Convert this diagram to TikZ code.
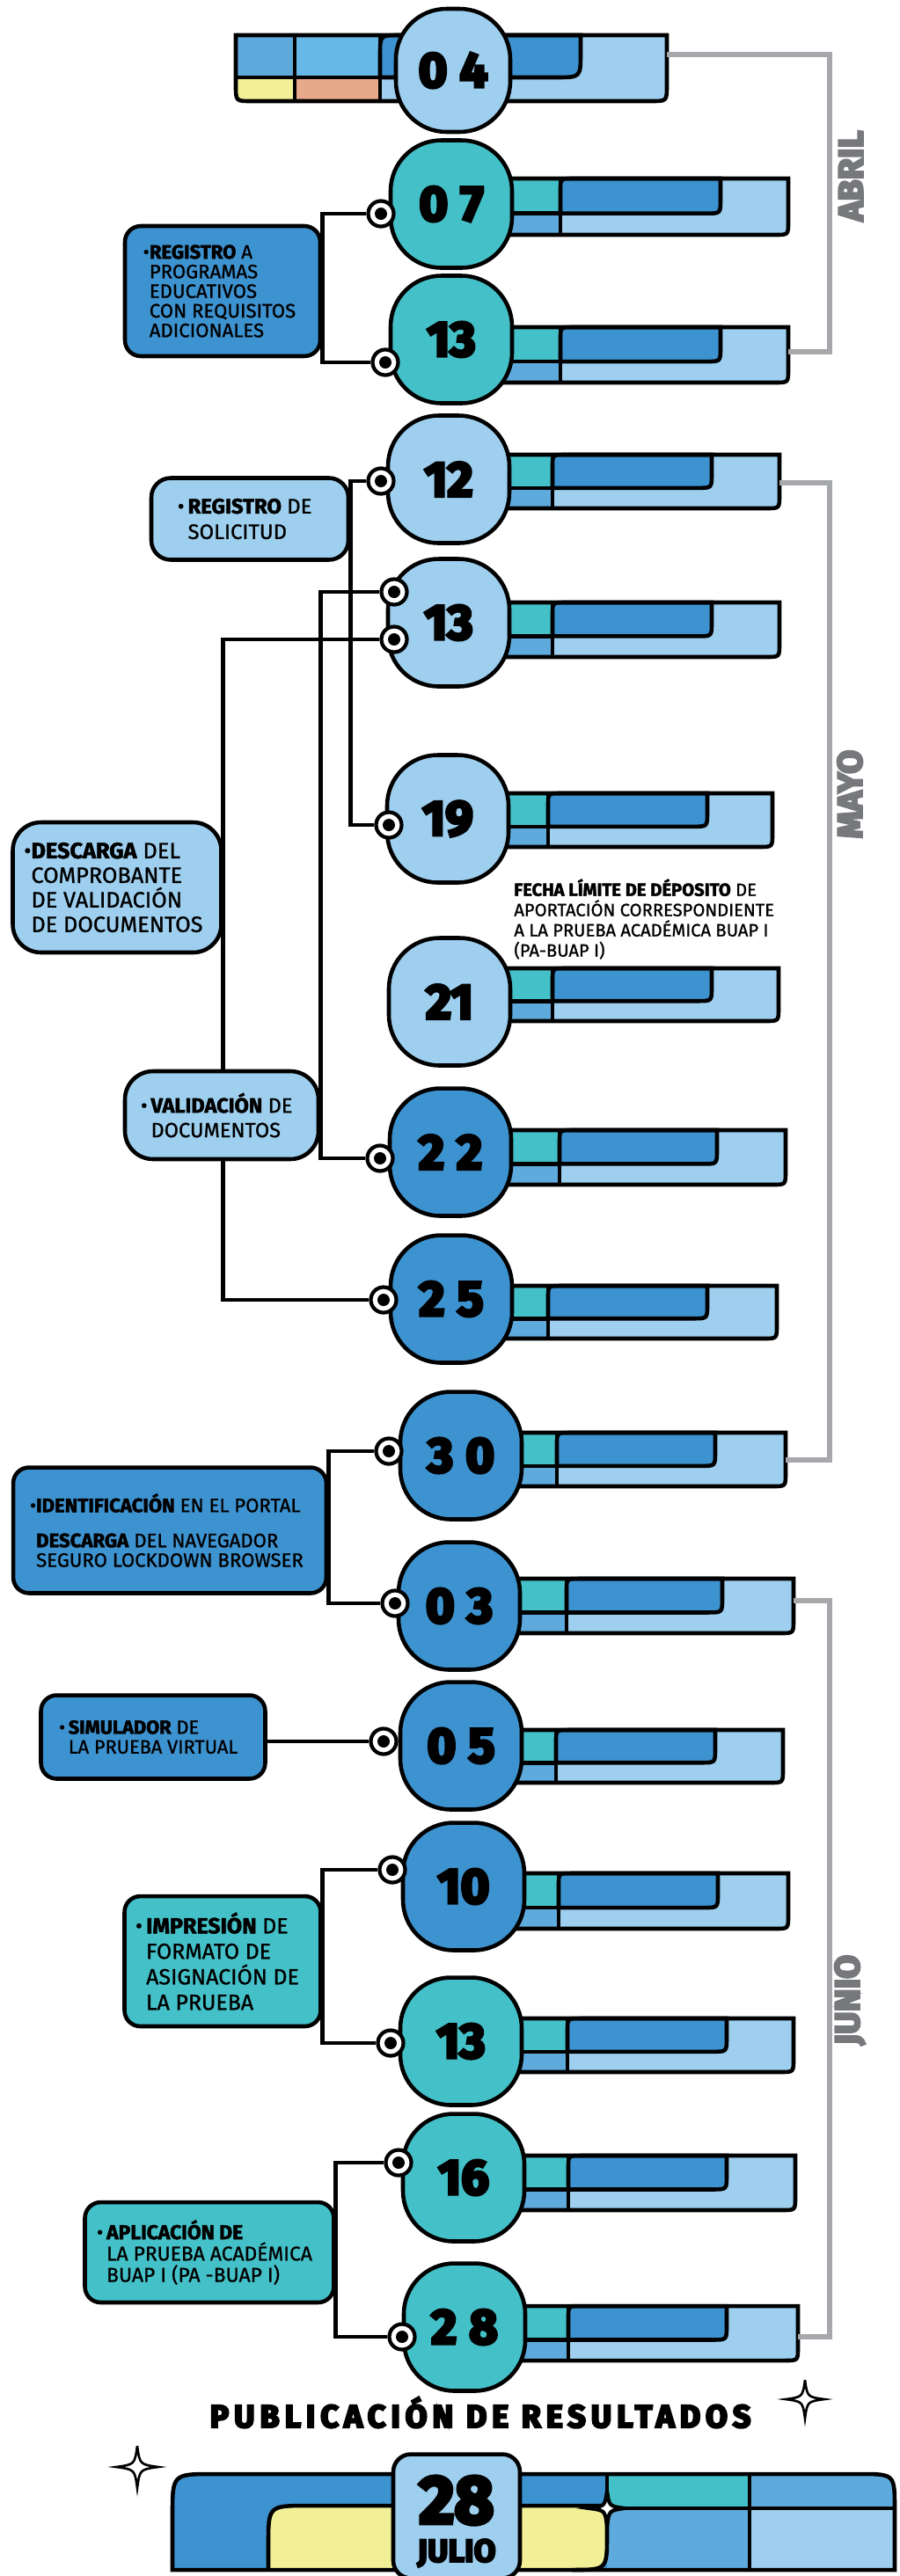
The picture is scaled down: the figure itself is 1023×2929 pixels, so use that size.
\documentclass[tikz,border=0pt]{standalone}
\usepackage{fontspec}
\setmainfont{Fira Sans}[UprightFeatures={FakeBold=1}, BoldFeatures={FakeBold=2}]
\newfontfamily\heavyfont{Fira Sans}[BoldFeatures={FakeBold=6}]

\definecolor{dblue}{RGB}{61,146,208}
\definecolor{mblue}{RGB}{95,170,221}
\definecolor{lblue}{RGB}{158,207,239}
\definecolor{aqua}{RGB}{68,193,200}
\definecolor{sky}{RGB}{102,184,231}
\definecolor{lemon}{RGB}{242,240,150}
\definecolor{salmon}{RGB}{232,168,138}
\definecolor{bracket}{RGB}{166,168,171}
\definecolor{monthgrey}{RGB}{118,120,123}

\pgfdeclarelayer{bars}
\pgfdeclarelayer{wires}
\pgfsetlayers{bars,wires,main}

\tikzset{
  ink/.style={line width=2.6pt},
  wire/.style={line width=2.8pt},
  monthline/.style={draw=bracket, line width=3pt},
  dateoval/.style={draw, ink, rectangle, rounded corners=1.15cm, minimum width=2.76cm,
    minimum height=2.9cm, inner sep=0pt, font=\heavyfont\bfseries\fontsize{32}{32}\selectfont},
  ring/.style={circle, draw, fill=white, line width=2.4pt, minimum size=0.58cm, inner sep=0pt,
    path picture={\fill[black] (path picture bounding box.center) circle (0.14cm);}},
  infobox/.style={draw, ink, rectangle, rounded corners=0.36cm, inner sep=0pt, align=left},
  monthlabel/.style={rotate=90, text=monthgrey, font=\heavyfont\bfseries\fontsize{22.3}{22}\selectfont},
  sparkle/.pic={\filldraw[fill=white] (0,-1) .. controls (0.12,-0.12) .. (1,0)
    .. controls (0.12,0.12) .. (0,1) .. controls (-0.12,0.12) .. (-1,0)
    .. controls (-0.12,-0.12) .. cycle;}
}

% bar behind a date: top, bottom, left, divider, end of dark part, right end
\newcommand\datebar[6]{%
  \pgfmathsetmacro\barmid{#1+0.62*(#2-#1)}
  \fill[lblue] (#3,#1) -- (#6,#1) -- (#6,#2-15) .. controls (#6,#2) .. (#6-15,#2) -- (#3,#2) -- cycle;
  \fill[aqua] (#3,#1) rectangle (#4,\barmid);
  \fill[mblue] (#3,\barmid) rectangle (#4,#2);
  \filldraw[fill=dblue, ink] (#4,\barmid) -- (#4,#1+14) .. controls (#4,#1) .. (#4+14,#1)
    -- (#5,#1) -- (#5,\barmid-16) .. controls (#5,\barmid) .. (#5-16,\barmid) -- cycle;
  \draw[ink] (#3,\barmid) -- (#4,\barmid);
  \draw[ink] (#4,#1) -- (#4,#2);
  \draw[ink] (#3,#1) -- (#6,#1) -- (#6,#2-15) .. controls (#6,#2) .. (#6-15,#2) -- (#3,#2);
}
\newcommand\dd[2]{#1\hspace{0.25em}#2}

\begin{document}
\begin{tikzpicture}[x=0.02cm, y=-0.02cm]

    % Page frame in pixels of the poster
    \useasboundingbox (0,0) rectangle (1023,2929);

    % Bars behind the dates
    \begin{pgfonlayer}{bars}
    % opening bar of April 4th
    \fill[lblue] (268,40) -- (758,40) -- (758,97) .. controls (758,115) .. (740,115) -- (286,115) .. controls (268,115) .. (268,97) -- cycle;
    \fill[mblue] (268,40) rectangle (335,88);
    \fill[lemon] (268,88) -- (335,88) -- (335,115) -- (286,115) .. controls (268,115) .. (268,97) -- cycle;
    \fill[sky] (335,40) rectangle (432,88);
    \fill[salmon] (335,88) rectangle (432,115);
    \filldraw[fill=dblue, ink] (432,88) -- (432,62) .. controls (432,40) .. (454,40) -- (660,40) -- (660,60) .. controls (660,88) .. (632,88) -- cycle;
    \draw[ink] (268,88) -- (432,88);
    \draw[ink] (335,40) -- (335,115);
    \draw[ink] (432,40) -- (432,115);
    \draw[ink] (268,40) -- (758,40) -- (758,97) .. controls (758,115) .. (740,115) -- (286,115) .. controls (268,115) .. (268,97) -- cycle;

    \datebar{203}{267}{513}{637}{819}{896}  % 07
    \datebar{372}{435}{513}{637}{819}{896}  % 13 abril
    \datebar{517}{578}{510}{628}{809}{886}  % 12
    \datebar{685}{747}{510}{628}{809}{886}  % 13 mayo
    \datebar{902}{963}{509}{623}{804}{878}  % 19
    \datebar{1101}{1161}{511}{628}{809}{885} % 21
    \datebar{1285}{1347}{512}{636}{815}{893} % 22
    \datebar{1462}{1522}{513}{623}{804}{883} % 25
    \datebar{1629}{1690}{524}{633}{813}{893} % 30
    \datebar{1795}{1857}{522}{644}{821}{902} % 03
    \datebar{1967}{2027}{524}{632}{813}{890} % 05
    \datebar{2130}{2193}{527}{635}{816}{896} % 10
    \datebar{2295}{2356}{524}{645}{826}{902} % 13 junio
    \datebar{2451}{2513}{527}{646}{826}{904} % 16
    \datebar{2622}{2684}{528}{646}{826}{907} % 28
    \end{pgfonlayer}

    % Month brackets
    \coordinate (aprA) at (758,62);
    \coordinate (aprB) at (896,400);
    \coordinate (mayA) at (886,549);
    \coordinate (mayB) at (893,1660);
    \coordinate (junA) at (902,1820);
    \coordinate (junB) at (907,2657);
    \draw[monthline] (aprA) -- (943,62) |- (aprB);
    \draw[monthline] (mayA) -- (943,549) |- (mayB);
    \draw[monthline] (junA) -- (943,1820) |- (junB);
    \node[monthlabel] (abril) at (967,200) {ABRIL};
    \node[monthlabel] (mayo) at (966,903) {MAYO};
    \node[monthlabel] (junio) at (966,2274) {JUNIO};

    % Date ovals
    \node[dateoval, fill=lblue, minimum width=2.6cm, minimum height=2.8cm] (d04) at (515,80) {\dd04};
    \node[dateoval, fill=aqua] (d07) at (513,232) {\dd07};
    \node[dateoval, fill=aqua] (d13a) at (513,386) {13};
    \node[dateoval, fill=lblue] (d12) at (510,545) {12};
    \node[dateoval, fill=lblue] (d13m) at (510,708) {13};
    \node[dateoval, fill=lblue] (d19) at (509,931) {19};
    \node[dateoval, fill=lblue] (d21) at (511,1139) {21};
    \node[dateoval, fill=dblue] (d22) at (512,1310) {\dd22};
    \node[dateoval, fill=dblue] (d25) at (513,1477) {\dd25};
    \node[dateoval, fill=dblue] (d30) at (524,1655) {\dd30};
    \node[dateoval, fill=dblue] (d03) at (522,1826) {\dd03};
    \node[dateoval, fill=dblue] (d05) at (524,1985) {\dd05};
    \node[dateoval, fill=dblue] (d10) at (527,2145) {10};
    \node[dateoval, fill=aqua] (d13j) at (524,2321) {13};
    \node[dateoval, fill=aqua] (d16) at (527,2476) {16};
    \node[dateoval, fill=aqua] (d28) at (528,2646) {\dd28};

    % Rings on the left of the ovals
    \node[ring] (k07) at (433,243) {};
    \node[ring] (k13a) at (438,412) {};
    \node[ring] (k12) at (433,547) {};
    \node[ring] (k13u) at (448,673) {};
    \node[ring] (k13l) at (448,727) {};
    \node[ring] (k19) at (442,938) {};
    \node[ring] (k22) at (432,1317) {};
    \node[ring] (k25) at (436,1478) {};
    \node[ring] (k30) at (442,1650) {};
    \node[ring] (k03) at (449,1823) {};
    \node[ring] (k05) at (436,1980) {};
    \node[ring] (k10) at (446,2126) {};
    \node[ring] (k13j) at (444,2323) {};
    \node[ring] (k16) at (453,2459) {};
    \node[ring] (k28) at (457,2657) {};

    % Activity boxes
    \node[infobox, fill=dblue, minimum width=4.44cm, minimum height=2.96cm,
      font=\fontsize{12.6}{12.7}\selectfont] (regA) at (253,331)
      {\llap{•}\textbf{REGISTRO} A\\PROGRAMAS\\EDUCATIVOS\\CON REQUISITOS\\ADICIONALES};
    \node[infobox, fill=lblue, minimum width=4.48cm, minimum height=1.86cm, rounded corners=0.44cm,
      font=\fontsize{13.6}{16.5}\selectfont] (regS) at (284,590)
      {\llap{•\,}\textbf{REGISTRO} DE\\SOLICITUD};
    \node[infobox, fill=lblue, minimum width=4.74cm, minimum height=2.96cm, rounded corners=0.64cm,
      font=\fontsize{14.4}{15.9}\selectfont] (desc) at (133,1009)
      {\llap{•}\textbf{DESCARGA} DEL\\COMPROBANTE\\DE VALIDACIÓN\\DE DOCUMENTOS};
    \node[infobox, fill=lblue, minimum width=4.4cm, minimum height=2cm, rounded corners=0.64cm,
      font=\fontsize{13.4}{15.9}\selectfont] (valid) at (252,1268)
      {\llap{•\,}\textbf{VALIDACIÓN} DE\\DOCUMENTOS};
    \node[infobox, fill=dblue, minimum width=7.12cm, minimum height=2.86cm,
      font=\fontsize{12.6}{12.7}\selectfont] (ident) at (193,1740)
      {\llap{•}\textbf{IDENTIFICACIÓN} EN EL PORTAL\\[10pt]\textbf{DESCARGA} DEL NAVEGADOR\\SEGURO LOCKDOWN BROWSER};
    \node[infobox, fill=dblue, minimum width=5.1cm, minimum height=1.9cm,
      font=\fontsize{12.4}{12.7}\selectfont] (sim) at (174,1975)
      {\llap{•\,}\textbf{SIMULADOR} DE\\LA PRUEBA VIRTUAL};
    \node[infobox, fill=aqua, minimum width=4.46cm, minimum height=2.96cm,
      font=\fontsize{14.2}{16.5}\selectfont] (impr) at (253,2230)
      {\llap{•\,}\textbf{IMPRESIÓN} DE\\FORMATO DE\\ASIGNACIÓN DE\\LA PRUEBA};
    \node[infobox, fill=aqua, minimum width=5.66cm, minimum height=2.28cm,
      font=\fontsize{13}{13.8}\selectfont] (apli) at (238,2561)
      {\llap{•\,}\textbf{APLICACIÓN DE}\\LA PRUEBA ACADÉMICA\\BUAP I (PA -BUAP I)};

    % Note under the 19th
    \node[anchor=west, align=left, inner sep=0pt, font=\fontsize{11.5}{13.1}\selectfont] (fecha) at (584,1045)
      {\textbf{FECHA LÍMITE DE DÉPOSITO} DE\\APORTACIÓN CORRESPONDIENTE\\A LA PRUEBA ACADÉMICA BUAP I\\(PA-BUAP I)};

    % Connectors from the boxes to the rings
    \begin{pgfonlayer}{wires}
    \draw[wire] (k07) -| (regA.east) |- (k13a);
    \draw[wire] (k12) -| (regS.east) |- (k19);
    \draw[wire] (k13u) -| (valid.east) |- (k22);
    \draw[wire] (k13l) -| (desc.east) |- (k25);
    \draw[wire] (k30) -| (ident.east) |- (k03);
    \draw[wire] (sim.east |- k05) -- (k05);
    \draw[wire] (k10) -| (impr.east) |- (k13j);
    \draw[wire] (k16) -| (apli.east) |- (k28);
    \end{pgfonlayer}

    % Results banner
    \node[anchor=base, font=\heavyfont\bfseries\fontsize{20.6}{20}\selectfont\addfontfeature{LetterSpace=16}] (pubtitle) at (546,2760) {PUBLICACIÓN DE RESULTADOS};
    \pic[scale=22, line width=1.5pt] at (915,2728) {sparkle};
    \pic[scale=24, line width=1.5pt] at (156,2805) {sparkle};

    \fill[dblue] (196,2922) -- (196,2860) .. controls (196,2813) .. (243,2813) -- (977,2813) .. controls (1017,2813) .. (1017,2853) -- (1017,2922) -- cycle;
    \fill[mblue] (690,2813) -- (977,2813) .. controls (1017,2813) .. (1017,2853) -- (1017,2922) -- (690,2922) -- cycle;
    \fill[aqua] (690,2813) rectangle (852,2852);
    \fill[lblue] (852,2852) rectangle (1017,2922);
    \filldraw[fill=lemon, ink] (305,2922) -- (305,2894) .. controls (305,2849) .. (350,2849) -- (678,2849) .. controls (690,2849) .. (690,2861) -- (690,2882) .. controls (690,2922) .. (650,2922);
    \draw[ink] (690,2813) -- (690,2852) -- (1017,2852);
    \draw[ink] (852,2813) -- (852,2922);
    \draw[ink] (196,2922) -- (196,2860) .. controls (196,2813) .. (243,2813) -- (977,2813) .. controls (1017,2813) .. (1017,2853) -- (1017,2922) -- cycle;
    \pic[scale=20, line width=2.4pt] at (690,2852) {sparkle};

    \node[draw, ink, fill=lblue, rounded corners=0.4cm, minimum width=2.88cm, minimum height=2.82cm] (julcard) at (519,2861) {};
    \node[inner sep=0pt, font=\heavyfont\bfseries\fontsize{44}{44}\selectfont] (jul28) at (519,2843) {28};
    \node[inner sep=0pt, font=\heavyfont\bfseries\fontsize{20.6}{20}\selectfont] (julmonth) at (519,2903) {JULIO};

\end{tikzpicture}
\end{document}
